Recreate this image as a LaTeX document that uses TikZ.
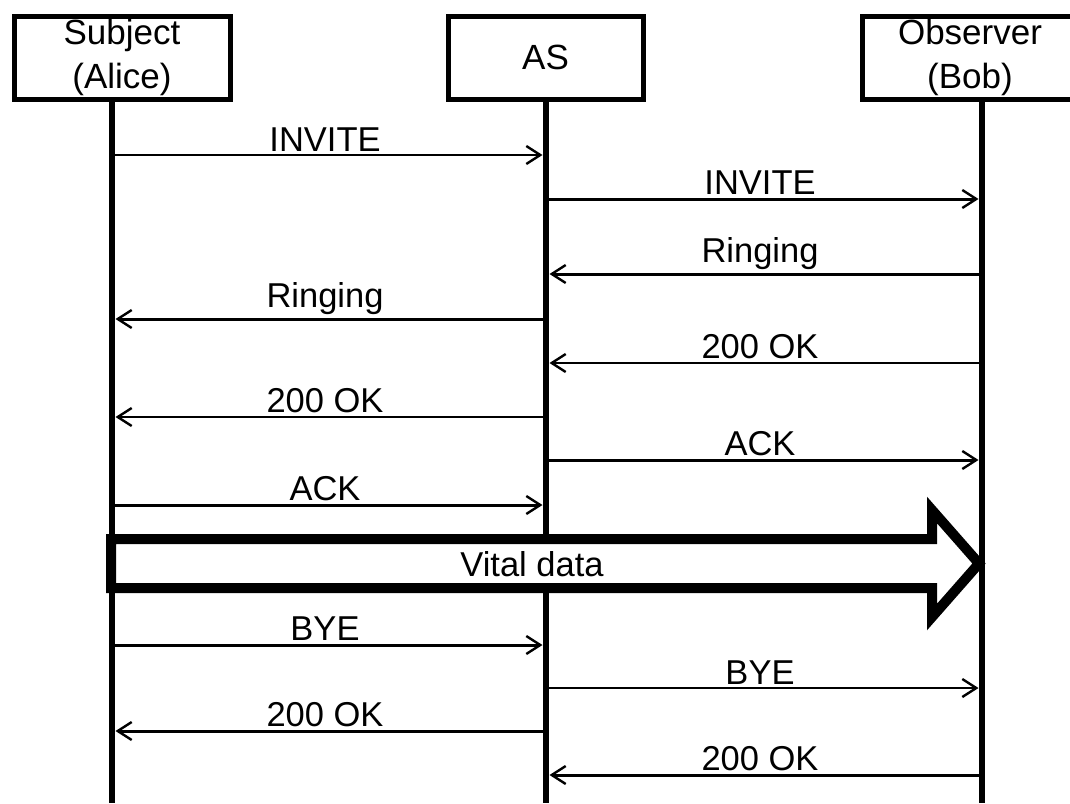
\documentclass[tikz,border=0pt]{standalone}
\usepackage{fontspec}
\setmainfont{Liberation Sans}
\usetikzlibrary{arrows.meta}

\tikzset{
  actor/.style={draw, line width=5pt, inner sep=0pt, minimum height=83pt,
    align=center, font=\fontsize{35}{44}\selectfont},
  life/.style={line width=6.5pt},
  msg/.style={line width=3pt, shorten >=3.5pt,
    -{Straight Barb[length=14pt,width=18pt,line width=2.4pt]}},
  thinmsg/.style={msg, line width=1.5pt},
  midmsg/.style={msg, line width=2.2pt},
  lbl/.style={anchor=south, inner sep=0pt, xshift=-4pt, yshift=3pt,
    font=\fontsize{34.5}{40}\selectfont},
  bulk/.style={line width=10pt, fill=white, miter limit=10},
}

\begin{document}
\begin{tikzpicture}[x=1pt,y=-1pt]
  \useasboundingbox (0,0) rectangle (1070,803);
  \clip (0,0) rectangle (1070,803);

  \node[actor, minimum width=216pt] (alice) at (122,57.5) {Subject\\(Alice)};
  \node[actor, minimum width=195pt] (as) at (545.5,57.5) {AS};
  \node[actor, minimum width=216pt] (bob) at (970,57.5) {Observer\\(Bob)};

  \coordinate (aliceTop) at (112,99);  \coordinate (aliceEnd) at (112,803);
  \coordinate (asTop) at (546,99);     \coordinate (asEnd) at (546,803);
  \coordinate (bobTop) at (982,99);    \coordinate (bobEnd) at (982,803);
  \draw[life] (aliceTop) -- (aliceEnd);
  \draw[life] (asTop) -- (asEnd);
  \draw[life] (bobTop) -- (bobEnd);

  \foreach \N/\Y/\F/\T/\S/\L in {
      1/155/112/546/thinmsg/INVITE,
      2/199/546/982/msg/INVITE,
      3/274/982/546/msg/Ringing,
      4/319/546/112/msg/Ringing,
      5/363/982/546/thinmsg/200 OK,
      6/417/546/112/midmsg/200 OK,
      7/460/546/982/msg/ACK,
      8/505/112/546/msg/ACK,
      10/645/112/546/msg/BYE,
      11/688/546/982/thinmsg/BYE,
      12/731/546/112/msg/200 OK,
      13/775/982/546/msg/200 OK} {
    \coordinate (m\N-from) at (\F,\Y);
    \coordinate (m\N-to) at (\T,\Y);
    \draw[\S] (m\N-from) -- node[lbl, midway] (l\N) {\L} (m\N-to);
  }

  % bulk transfer
  \draw[bulk] (111,539) -- (932,539) -- (932,510) -- (979,563.5)
    -- (932,617) -- (932,588) -- (111,588) -- cycle;
  \node[font=\fontsize{34.5}{40}\selectfont, inner sep=0pt] (vital) at (532,564) {Vital data};
\end{tikzpicture}
\end{document}
